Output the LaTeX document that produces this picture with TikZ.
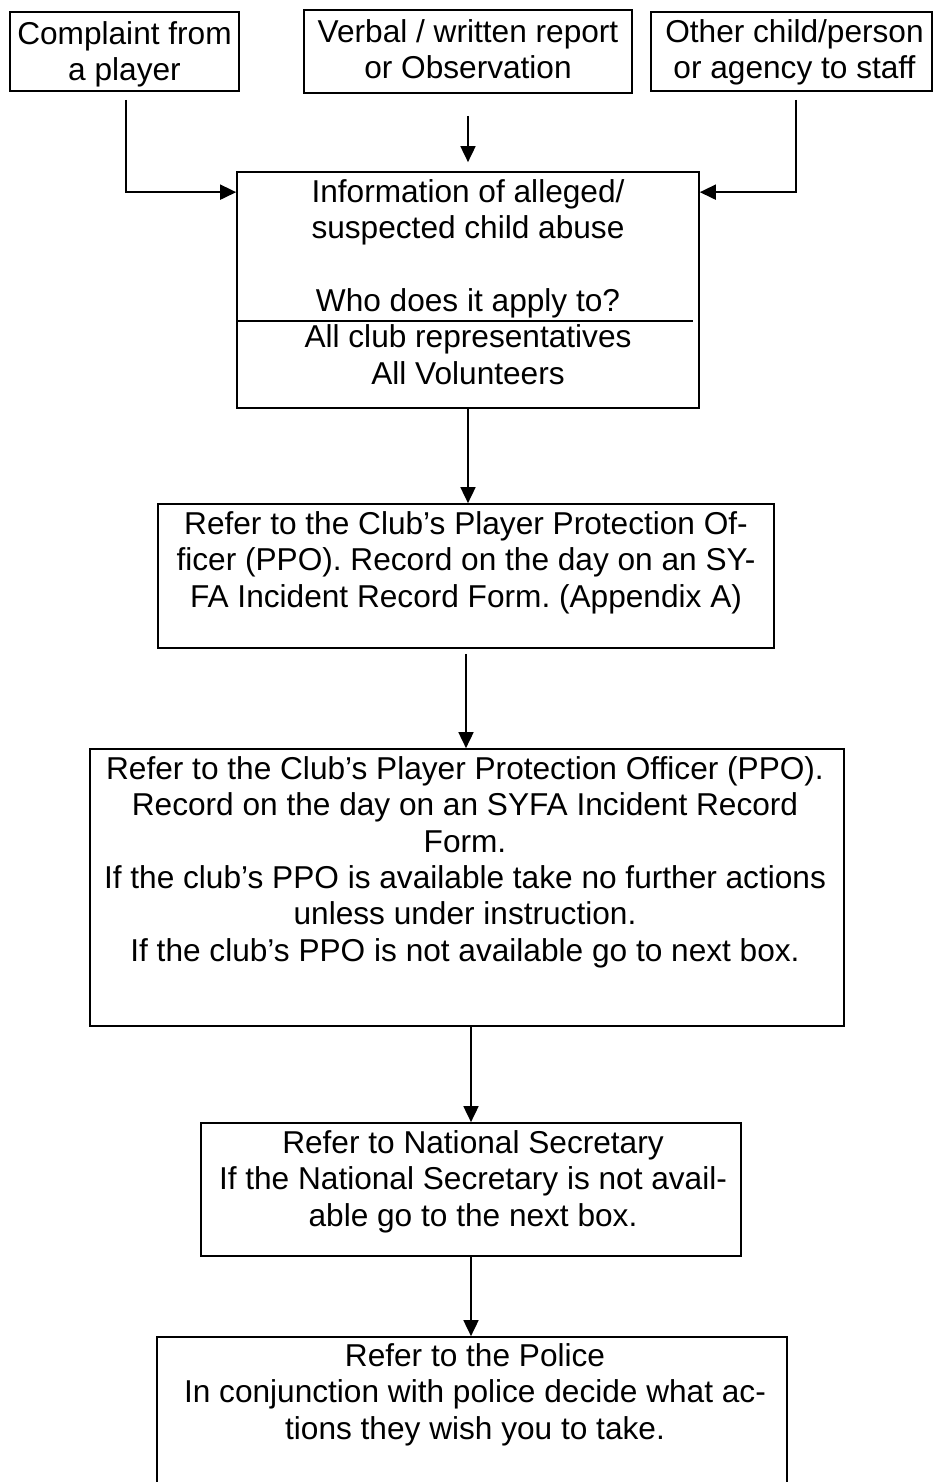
\documentclass[tikz,border=0pt]{standalone}
\usepackage{fontspec}
\setmainfont{Liberation Sans}
\usetikzlibrary{arrows.meta, calc}
\frenchspacing

\tikzset{
  box/.style={draw, line width=1pt, inner sep=0pt},
  txt/.style={anchor=north, inner sep=0pt, align=center, font=\fontsize{18}{20.7}\selectfont},
  arr/.style={-{Triangle[length=0.32cm, width=0.3cm]}, line width=1pt}
}

\begin{document}
\begin{tikzpicture}[x=0.02cm, y=-0.02cm]
\useasboundingbox (0,0) rectangle (933,1482);
\clip (0,0) rectangle (933,1482);

% the three sources
\node[box, minimum width=4.58cm, minimum height=1.58cm] (complaint) at (124.5,51.5) {};
\node[box, minimum width=6.56cm, minimum height=1.66cm] (report) at (468,51.5) {};
\node[box, minimum width=5.62cm, minimum height=1.58cm] (other) at (791.5,51.5) {};
\node[txt] (complaintT) at ($(complaint.north)+(0,7.5)$) {\strut Complaint from\\a player};
\node[txt] (reportT) at ($(report.north)+(0,7.5)$) {\strut Verbal / written report\\or Observation};
\node[txt] (otherT) at ($(other.north)+(3,5.5)$) {\strut Other child/person\\or agency to staff};

% information box
\node[box, minimum width=9.24cm, minimum height=4.72cm] (info) at (468,290) {};
\node[txt] (infoT) at ($(info.north)+(0,5.5)$) {\strut Information of alleged/\\suspected child abuse\\[20.7pt]Who does it apply to?\\All club representatives\\All Volunteers};
\draw[line width=1pt] ($(info.north west)+(0,150)$) -- ++(457,0);

% the steps
\node[box, minimum width=12.32cm, minimum height=2.88cm] (ppo) at (466,576) {};
\node[txt] (ppoT) at ($(ppo.north)+(0,5.5)$) {\strut Refer to the Club’s Player Protection Of-\\ficer (PPO). Record on the day on an SY-\\FA Incident Record Form. (Appendix A)};

\node[box, minimum width=15.08cm, minimum height=5.54cm] (ppofull) at (467,887.5) {};
\node[txt] (ppofullT) at ($(ppofull.north)+(-2,5.5)$) {\strut Refer to the Club’s Player Protection Officer (PPO).\\Record on the day on an SYFA Incident Record\\Form.\\If the club’s PPO is available take no further actions\\unless under instruction.\\If the club’s PPO is not available go to next box.};

\node[box, minimum width=10.8cm, minimum height=2.66cm] (natsec) at (471,1189.5) {};
\node[txt] (natsecT) at ($(natsec.north)+(2,5.5)$) {\strut Refer to National Secretary\\If the National Secretary is not avail-\\able go to the next box.};

\node[box, minimum width=12.6cm, minimum height=3.32cm] (police) at (472,1420) {};
\node[txt] (policeT) at ($(police.north)+(3,4.5)$) {\strut Refer to the Police\\In conjunction with police decide what ac-\\tions they wish you to take.};

% connectors
\draw[arr] ($(complaint.south)+(1.5,8)$) |- ($(info.north west)+(0,21)$);
\draw[arr] ($(report.south)+(0,22)$) -- ($(info.north)+(0,-9)$);
\draw[arr] ($(other.south)+(4.5,8)$) |- ($(info.north east)+(0,21)$);
\draw[arr] (info.south) -- (info.south |- ppo.north);
\draw[arr] ($(ppo.south)+(0,5)$) -- (ppo.south |- ppofull.north);
\draw[arr] (natsec.north |- ppofull.south) -- (natsec.north);
\draw[arr] (natsec.south) -- (natsec.south |- police.north);
\end{tikzpicture}
\end{document}
